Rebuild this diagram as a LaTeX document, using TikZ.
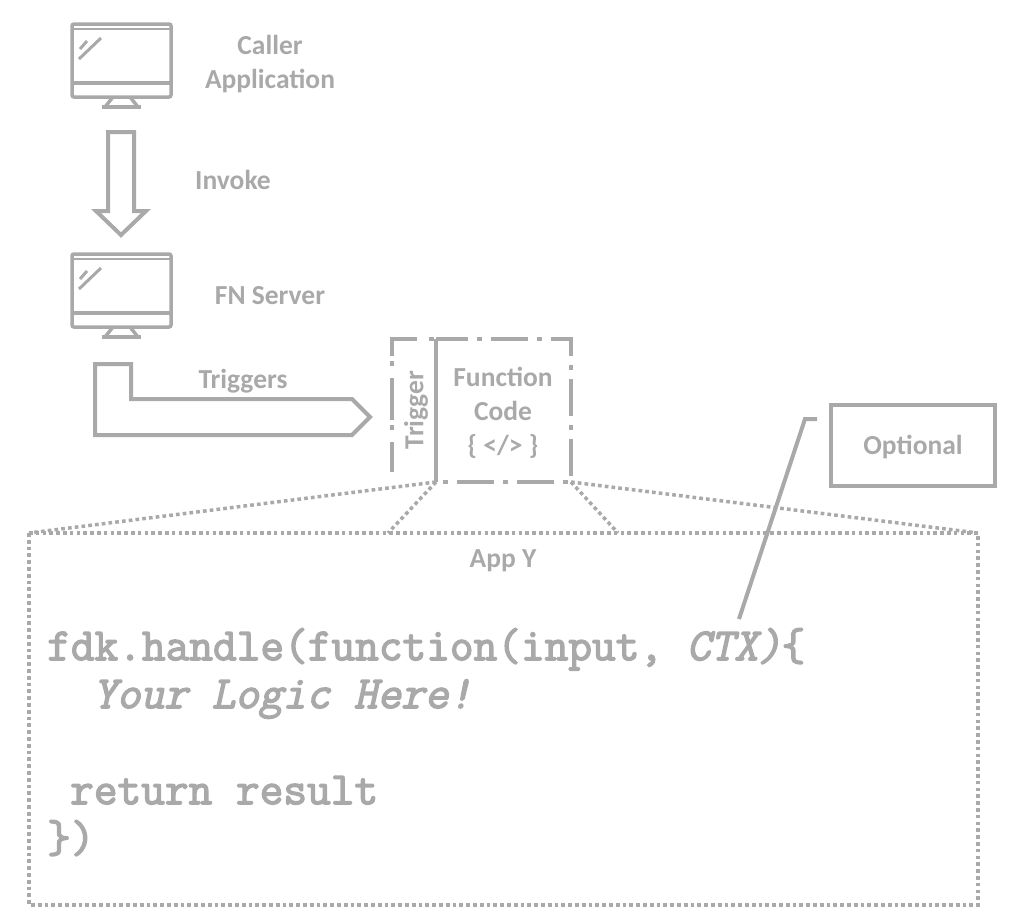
\documentclass[tikz,border=0pt]{standalone}
\usepackage{fontspec}
\usepackage{xcolor}
\usepackage{tikz}
\usetikzlibrary{positioning}
\setmainfont{Carlito}
\newfontfamily\codefont[FakeBold=3]{Latin Modern Mono}
\newfontfamily\codeslant[FakeBold=3,FakeSlant=0.22]{Latin Modern Mono}
\definecolor{fngray}{HTML}{A9A9A9}
\tikzset{
  label/.style={font=\fontsize{27.5}{34}\selectfont\bfseries, text=fngray, align=center, inner sep=0pt},
  outline/.style={draw=fngray, line width=4pt, line join=miter},
  dashbox/.style={draw=fngray, line width=4pt, dash pattern=on 37pt off 9pt on 5pt off 9pt},
  dotbox/.style={draw=fngray, line width=3.5pt, dash pattern=on 3.7pt off 3.1pt},
  pics/monitor/.style={code={
    \draw[draw=fngray, line width=3.5pt, rounded corners=2pt] (72,24) rectangle (171,97);
    \draw[draw=fngray, line width=2.5pt] (72,29) -- (171,29);
    \draw[draw=fngray, line width=3.5pt] (72,83) -- (171,83);
    \draw[draw=fngray, line width=3.5pt] (113,97) -- (105,107);
    \draw[draw=fngray, line width=3.5pt] (130,97) -- (138,107);
    \draw[draw=fngray, line width=3.5pt] (102,107) -- (141,107);
    \draw[draw=fngray, line width=3pt] (80,49) -- (87,41);
    \draw[draw=fngray, line width=3pt] (79,59) -- (101,38);
  }},
}
\begin{document}
\begin{tikzpicture}[x=1pt, y=-1pt]
  \useasboundingbox (0,0) rectangle (1026,914);
  % Monitors and their labels
  \pic {monitor};
  \pic[yshift=-230pt] {monitor};
  \node[label] (caller) at (270,64) {Caller\\Application};
  \node[label] (invoke) at (233,180) {Invoke};
  \node[label] (server) at (270,296) {FN Server};
  \node[label] (triggers) at (243,381) {Triggers};

  % Block arrows
  \draw[outline] (108,132) -- (134,132) -- (134,211) -- (146,211) -- (121,235)
    -- (96,211) -- (108,211) -- cycle;
  \draw[outline] (95,364) -- (131,364) -- (131,399) -- (352,399) -- (370,417)
    -- (352,435) -- (95,435) -- cycle;

  % Trigger and function boxes
  \coordinate (boxleft) at (436,482);
  \coordinate (boxright) at (571,482);
  \draw[draw=fngray, line width=4pt, dash pattern=on 42pt off 12pt on 5pt off 5pt, dash phase=12pt]
    (392,472) -- (392,339) -- (436,339);
  \draw[dashbox, dash phase=5pt] (436,339) -- (571,339) -- (boxright) -- (boxleft);
  \draw[draw=fngray, line width=3.5pt] (boxleft) -- (436,339);
  \node[label, rotate=90] (trigger) at (416,410) {Trigger};
  \node[label] (function) at (503,413) {Function\\Code\\\{ </> \}};

  % App box
  \draw[dotbox] (29,533) rectangle (978,905);
  \coordinate (appnw) at (29,533);
  \coordinate (appne) at (978,533);
  \coordinate (appa) at (388,533);
  \coordinate (appb) at (618,533);
  \draw[dotbox] (boxleft) -- (appnw);
  \draw[dotbox] (boxleft) -- (appa);
  \draw[dotbox] (boxright) -- (appb);
  \draw[dotbox] (boxright) -- (appne);
  \node[label] (appy) at (503,561) {App Y};

  % Optional box
  \node[label, draw=fngray, line width=4pt, minimum width=164pt, minimum height=81pt] (optional) at (913,445.5) {\raisebox{-8.5pt}[0pt][0pt]{Optional}};
  \coordinate (ctx) at (739,619);
  \coordinate (bend) at (805,419);
  \coordinate (stub) at (817,419);
  \draw[draw=fngray, line width=4pt] (stub) -- (bend) -- (ctx);

  % Code
  \node[anchor=north west, inner sep=0pt, align=left, text=fngray,
    font=\fontsize{46}{48}\selectfont\codefont] (code) at (47,628)
    {fdk.handle(function(input, {\codeslant CTX)}\{\\
    \hspace*{46pt}{\codeslant Your Logic Here!}\\
    ~\\
    \hspace*{23pt}return result\\
    \})};
\end{tikzpicture}
\end{document}
